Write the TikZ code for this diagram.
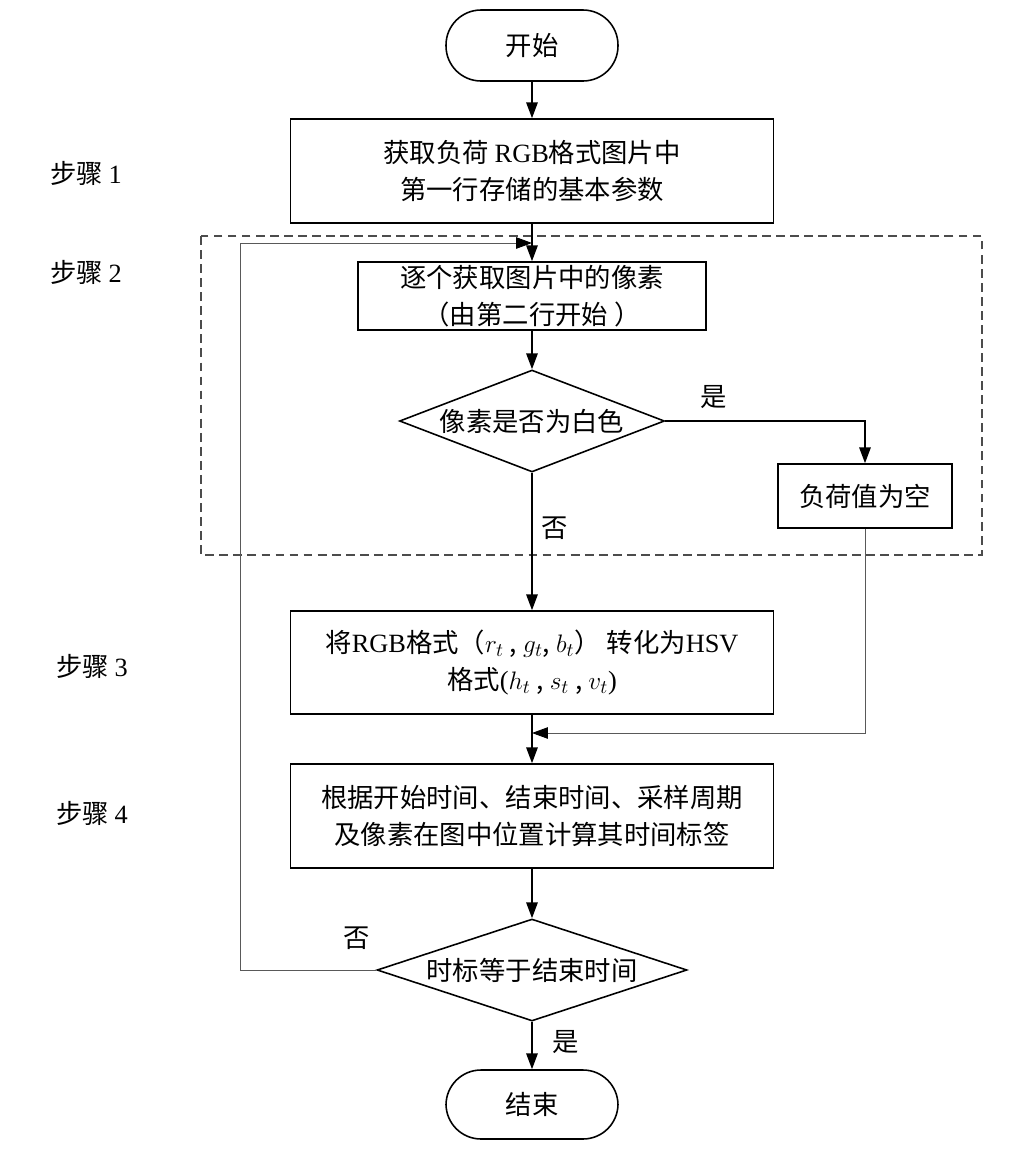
\documentclass[tikz,border=0pt]{standalone}
\usepackage{fontspec}
\setmainfont{Noto Sans CJK SC}
\newfontfamily\latin{Liberation Serif}
\usepackage{tikz}
\usetikzlibrary{positioning,shapes,arrows.meta}

\begin{document}
\begin{tikzpicture}[x=0.02cm,y=-0.02cm,>={Triangle[length=9pt,width=6.5pt]},
    every node/.style={font=\fontsize{15}{21}\selectfont},
    box/.style={draw,line width=0.9pt,align=center,inner sep=0pt},
    term/.style={box,rounded corners=0.7cm},
    cond/.style={draw,line width=0.9pt,diamond,inner sep=0pt},
    flow/.style={->,line width=0.9pt},
    back/.style={-{Triangle[length=9pt,width=6.5pt,color=black]},line width=0.5pt,black!65}]
            \useasboundingbox (0,0) rectangle (1018,1157);

            \draw[dashed,dash pattern=on 5pt off 3pt,line width=0.6pt,black!70] (201,236) rectangle (982,555);

            \node[term,minimum width=3.44cm,minimum height=1.42cm] (start) at (532,45.5) {开始};
            \node[box,minimum width=9.66cm,minimum height=2.08cm] (getpar) at (532,171) {获取负荷 {\latin RGB}格式图片中\\第一行存储的基本参数};
            \node[box,minimum width=6.96cm,minimum height=1.36cm] (getpix) at (532,296) {逐个获取图片中的像素\\（由第二行开始 ）};
            \node[cond,aspect=2.6,minimum width=5.3cm,minimum height=2.04cm] (white) at (532,421) {像素是否为白色};
            \node[box,minimum width=3.48cm,minimum height=1.28cm] (empty) at (865,496) {负荷值为空};
            \node[box,minimum width=9.66cm,minimum height=2.06cm] (conv) at (532,662.5) {将{\latin RGB}格式（$r_{t}$ , $g_{t}$, $b_{t}$） 转化为{\latin HSV}\\格式{\latin (}$h_{t}$ , $s_{t}$ , $v_{t}${\latin )}};
            \node[box,minimum width=9.66cm,minimum height=2.08cm] (timing) at (532,816) {根据开始时间、结束时间、采样周期\\及像素在图中位置计算其时间标签};
            \node[cond,aspect=3.04,minimum width=6.2cm,minimum height=2.04cm] (isend) at (532,970) {时标等于结束时间};
            \node[term,minimum width=3.44cm,minimum height=1.38cm] (stop) at (532,1104.5) {结束};

            \node (step1) at (86,173) {步骤 {\latin 1}};
            \node (step2) at (86,272) {步骤 {\latin 2}};
            \node (step3) at (92,666) {步骤 {\latin 3}};
            \node (step4) at (92,813) {步骤 {\latin 4}};

            \node (yes1) at (714,397) {是};
            \node (no1) at (555,528) {否};
            \node (no2) at (357,938) {否};
            \node (yes2) at (566,1042) {是};

            \coordinate (merge) at (532,733);
            \coordinate (loopx) at (240,243);
            \coordinate (loopin) at (532,243);

            \draw[flow] (start) -- (getpar);
            \draw[flow] (getpar) -- (getpix);
            \draw[flow] (getpix) -- (white);
            \draw[flow] (white.east) -| (empty.north);
            \draw[flow] (white.south) -- (conv.north);
            \draw[back] (empty.south) |- (merge);
            \draw[flow] (conv) -- (timing);
            \draw[flow] (timing) -- (isend);
            \draw[flow] (isend) -- (stop);
            \draw[back] (isend.west) -| (loopx) -- (loopin);
\end{tikzpicture}
\end{document}
